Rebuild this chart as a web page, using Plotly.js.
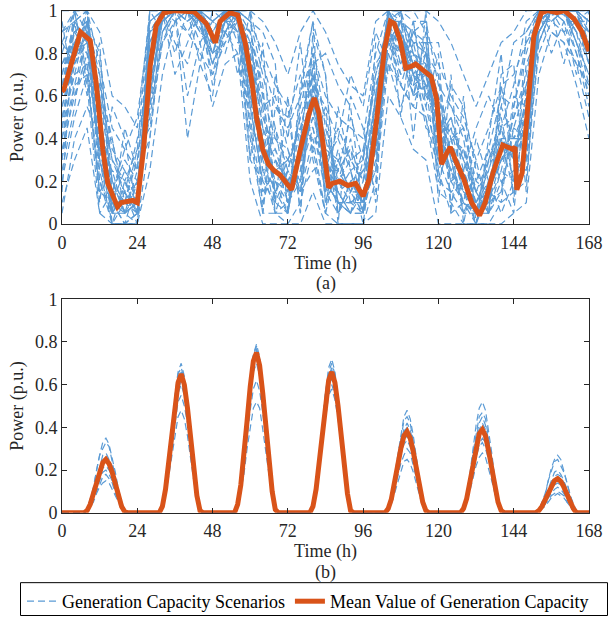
<!DOCTYPE html>
<html><head><meta charset="utf-8">
<script src="https://cdn.plot.ly/plotly-3.0.1.min.js"></script>
<style>html,body{margin:0;padding:0;background:#fff}#chart{width:609px;height:620px}</style>
</head><body><div id="chart"></div>
<script>
// ---------- DATA ----------
const timeTicks = [0, 24, 48, 72, 96, 120, 144, 168];
const powerTicks = [0, 0.2, 0.4, 0.6, 0.8, 1];
const powerTickText = ['0', '0.2', '0.4', '0.6', '0.8', '1'];

// (a) wind: scenario time grid (every 4 h)
const windHours = [0,4,8,12,16,20,24,28,32,36,40,44,48,52,56,60,64,68,72,76,80,84,88,92,96,100,104,108,112,116,120,124,128,132,136,140,144,148,152,156,160,164,168];
const windScenarios = [
 [.55,.80,.95,.60,.20,.05,.15,.85,1,1,1,.92,.80,1,1,.80,.45,.30,.10,.25,.70,.40,.15,.05,.20,.60,1,.90,.70,.80,.35,.45,.30,.10,.05,.25,.50,.70,1,1,.98,.90,.75],
 [.70,.95,1,.30,0,0,.05,.60,1,1,.95,1,.90,.95,1,.55,.20,.10,.25,.50,.45,.15,.30,.35,.05,.30,.85,.95,.85,.60,.55,.20,.10,0,.30,.45,.20,.35,.90,1,1,1,.85],
 [.40,.75,.85,.70,.35,.25,.10,.90,.95,1,1,1,.75,.90,.95,.90,.60,.40,.35,.15,.65,.55,.40,.25,.30,.70,.95,.70,.90,.85,.25,.40,.45,.20,.15,.10,.55,.85,.95,1,1,.95,.90],
 [.80,1,.90,.20,.05,.15,0,.70,1,1,1,1,.95,1,1,.65,.30,.15,.05,.40,.80,.20,.10,.10,.15,.35,1,1,.80,.75,.60,.30,.05,.05,.20,.40,.30,.60,1,1,1,.85,.70],
 [.60,.90,.80,.50,.15,.30,.20,.50,.90,1,1,.90,.85,1,.95,.85,.50,.35,.20,.30,.50,.35,.05,.20,.10,.50,.90,.80,.65,.70,.40,.50,.25,.05,.10,.30,.45,.40,.95,1,1,1,.95],
 [.30,.65,.90,.55,.05,.10,.30,.80,1,.95,.90,1,1,1,.90,.60,.15,.25,.30,.45,.55,.25,.25,.15,.05,.55,.95,.90,.75,.55,.30,.15,.20,.10,.25,.55,.40,.55,1,.95,1,1,.80],
 [.75,.85,1,.40,.10,0,.05,.95,1,1,1,.95,.70,.95,1,.75,.40,.20,.15,.35,.60,.30,.20,.30,.20,.40,1,.85,.80,.65,.50,.35,.15,0,.15,.35,.35,.45,.90,1,1,.90,.65],
 [.50,.70,.75,.35,.25,.05,.10,.65,.95,1,1,1,.90,1,.95,.70,.25,.05,.10,.20,.65,.10,.35,.10,.10,.25,.80,.95,.60,.90,.45,.25,.35,.15,.05,.20,.25,.30,.95,1,.95,.95,.85],
 [.65,.95,.85,.65,.40,.10,.05,.75,1,1,.60,.85,.95,.90,1,.95,.70,.45,.25,.50,.70,.50,.10,.05,.30,.75,.85,.75,.95,.95,.65,.55,.40,.05,.35,.60,.55,.80,1,1,1,.95,.90],
 [.45,.85,.95,.25,0,.20,.10,.55,1,1,1,1,.80,.85,1,.50,.10,.30,.20,.25,.45,.20,.15,.25,0,.45,.95,1,.70,.65,.20,.40,.15,.10,.10,.45,.30,.25,1,1,1,1,.80],
 [.85,1,.70,.15,.10,.05,.25,.90,1,.80,1,1,.95,1,.85,.85,.55,.10,.05,.40,.85,.45,.20,.10,.15,.35,.90,.65,.85,.80,.70,.30,.25,.05,.05,.15,.45,.65,.85,1,1,.85,.60],
 [.55,.75,.90,.55,.05,.15,.05,.80,.95,1,1,.90,.85,.95,1,.60,.35,.25,.30,.30,.55,.15,.05,.20,.25,.55,1,.90,.75,.70,.30,.35,.05,.10,.20,.40,.40,.50,1,.95,1,.90,.85],
 [.70,.90,.95,.45,.15,.10,.15,.70,1,1,1,1,.90,1,1,.80,.30,.35,.15,.45,.40,.35,.30,.15,.15,.40,.95,.80,.70,.60,.50,.45,.20,0,.20,.30,.35,.55,.95,1,1,1,.75],
 [.35,.60,.80,.65,.30,.20,.35,.45,.85,1,.95,1,.65,.90,.95,.90,.60,.15,.25,.15,.60,.25,.45,.30,.35,.65,.85,.95,.80,.45,.40,.20,.35,.15,.30,.50,.20,.75,.90,1,.90,.95,.95],
 [.60,.95,1,.35,.05,.05,.10,.85,1,1,1,1,1,1,1,.70,.40,.20,.10,.30,.75,.20,.10,.05,.05,.50,1,.90,.75,.75,.45,.25,.10,.05,.15,.30,.40,.40,1,1,1,.95,.80],
 [.50,.80,.85,.50,.20,.10,.20,.60,1,1,1,.95,.85,1,1,.65,.25,.30,.20,.35,.50,.30,.15,.20,.10,.40,.90,.85,.70,.70,.50,.40,.20,.05,.15,.35,.35,.50,.95,1,1,.95,.85],
 [.90,1,1,.75,.45,.35,.25,.95,1,1,1,1,1,1,1,1,.75,.55,.45,.60,.80,.60,.50,.45,.40,.80,1,1,1,.90,.75,.60,.50,.30,.45,.65,.70,.85,1,1,1,1,1],
 [.20,.50,.70,.20,0,0,0,.40,.90,1,1,.95,.75,.90,.90,.45,.05,.05,0,.10,.35,.05,0,0,0,.20,.75,.65,.55,.50,.15,.10,0,0,0,.10,.15,.20,.85,1,.95,.80,.55],
 [.65,.85,.90,.60,.30,.15,.05,.75,1,.70,.85,1,.95,1,1,.85,.45,.40,.30,.20,.65,.40,.25,.35,.20,.60,1,.95,.85,.85,.30,.50,.30,.15,.25,.45,.50,.65,1,1,1,1,.90],
 [.45,.70,.95,.30,.10,.25,.15,.65,.95,1,1,.90,.80,.95,.95,.55,.20,.20,.05,.40,.60,.20,.10,.10,.05,.35,.85,.80,.60,.65,.55,.30,.10,.05,.10,.25,.20,.35,.90,1,1,.85,.70],
 [1,1,1,.90,.60,.55,.45,1,1,1,1,1,1,1,1,1,.95,.85,.70,.90,1,.90,.75,.65,.60,.95,1,1,1,1,.95,.85,.70,.55,.70,.85,.90,1,1,1,1,1,1],
 [.10,.30,.45,.05,0,0,0,.25,.70,.95,1,.85,.55,.75,.80,.20,0,0,0,0,.15,0,0,0,0,.05,.60,.50,.35,.30,0,0,0,0,0,0,.05,.10,.70,.90,.85,.65,.40],
 [.95,.60,.75,.10,.55,.40,.05,1,1,1,.40,.75,1,1,1,.30,.85,.10,.60,.05,.90,.70,0,.60,.45,.10,1,.50,.95,.55,.80,.05,.60,0,.40,.80,.10,.90,1,.80,.95,.70,1],
 [.15,.95,.60,.85,.05,.45,.25,.40,1,1,1,.75,.60,1,.70,1,.05,.70,.40,.85,.30,.05,.55,.25,.05,.85,.70,1,.40,1,.10,.70,0,.30,.05,.70,.75,.15,1,1,.75,1,.95],
 [.85,.75,1,.55,0,.10,.35,1,.90,1,1,1,.85,.80,1,.90,.65,.05,.05,.65,.95,.10,.25,.50,.30,.70,.90,.85,.60,.80,.40,.65,.55,.25,.10,.15,.60,.55,.95,1,1,.80,.60],
 [.25,.55,.95,.80,.20,.05,0,.80,1,1,1,1,.95,.90,.80,.40,.05,.55,.50,.70,.35,.55,.10,.05,.15,.25,.95,.75,.90,.95,.20,.15,.05,.20,.35,.20,.05,.65,.85,1,1,.90,.85],
 [.60,1,.65,.05,.15,.35,.50,.95,1,.85,.75,1,1,.95,1,.95,.80,.65,.55,.05,.75,.80,.65,.55,.05,.60,.90,1,.95,.60,.70,.10,.25,.45,.60,.45,.65,.95,1,.90,.85,.75,.50],
 [.05,.40,.55,.40,.10,0,.20,.60,.95,1,.90,.80,.70,.85,.95,.45,.35,.05,.25,.15,.25,.30,.40,.70,.55,.90,.75,.55,.70,.50,.25,.05,.10,.40,.20,.05,.20,.30,.80,.95,1,.95,1],
 [.90,.95,.85,.30,.05,.05,.10,.90,1,1,1,1,.90,1,1,.95,.90,.75,.05,.60,.95,.70,.05,.15,.35,.15,1,.90,.65,.85,.85,.55,.45,.15,.05,.55,.85,.90,1,1,1,1,.90],
 [.40,.65,.70,.15,.25,.20,.05,.55,.85,.95,1,.95,.75,.95,.90,.30,.20,.45,.10,.55,.80,.15,.20,.40,.10,.45,.80,.65,.55,.75,.35,.25,.15,.05,.05,.65,.30,.45,.95,.95,.90,.75,.65],
 [.75,.90,.95,.70,.15,.15,.40,.70,1,1,.95,1,.80,1,1,.75,.55,.60,.35,.15,.40,.05,.30,.15,.25,.35,.95,.95,.90,.80,.60,.40,.35,.05,.30,.40,.15,.55,1,1,1,1,.95],
 [.30,.85,.80,.35,.40,.05,.10,.75,.95,1,1,1,.90,.90,1,.60,.45,.15,.30,.45,.70,.20,.15,.05,.05,.60,.85,.70,.80,.70,.50,.20,.25,.10,.15,.30,.35,.40,.90,1,1,.95,.75]
];
// (a) wind: mean generation capacity
const meanWindHours = [0,0.6,5.9,9,10.9,13,14.6,17.7,18.9,22.6,24,26,28.1,30,32.5,36,42,46,48.9,50.4,53.5,56,58.4,60.6,62,64,65.8,67.6,69.5,71.4,73.2,75.7,78.8,80.4,81.9,83.7,85,86.2,88.6,91.1,93.6,96,97.9,100.4,102.8,104.7,105.9,107.8,109.6,111.5,112.7,115.2,117.7,119.5,120.4,121,122.6,123.8,125.7,128.1,130.6,133.1,134.9,137.4,140.5,143.6,144.4,145,146.7,148.5,150.4,152.8,154.7,157.8,160.2,163.3,165.8,168];
const meanWind = [.62,.63,.90,.86,.66,.35,.19,.08,.10,.11,.10,.35,.74,.93,.99,1.0,.995,.94,.85,.95,.99,.98,.85,.66,.50,.35,.28,.25,.23,.19,.16,.33,.52,.59,.52,.32,.17,.19,.20,.18,.19,.13,.21,.50,.82,.95,.94,.86,.73,.74,.75,.72,.69,.58,.43,.28,.33,.36,.29,.21,.10,.04,.10,.24,.37,.35,.36,.16,.24,.58,.88,.99,1.0,.99,1.0,.96,.90,.81];

// (b) solar: daylight hours of each day
const solarHours = [0,
 7,8,9,10,11,12,13,14,15,16,17,18,19,20,21,
 31,32,33,34,35,36,37,38,39,40,41,42,43,44,45,
 55,56,57,58,59,60,61,62,63,64,65,66,67,68,69,
 79,80,81,82,83,84,85,86,87,88,89,90,91,92,93,
 103,104,105,106,107,108,109,110,111,112,113,114,115,116,117,
 127,128,129,130,131,132,133,134,135,136,137,138,139,140,141,
 151,152,153,154,155,156,157,158,159,160,161,162,163,164,165,
 168];
const solarScenarios = [
 [0,
  0,.02,.07,.11,.20,.27,.30,.33,.31,.24,.18,.10,.05,.01,0,
  0,.03,.12,.25,.38,.54,.65,.68,.62,.52,.35,.21,.09,.01,0,
  0,.04,.14,.27,.45,.60,.74,.78,.71,.59,.42,.24,.10,.02,0,
  0,.04,.12,.26,.40,.56,.66,.70,.65,.52,.37,.22,.09,.01,0,
  0,.02,.08,.17,.25,.36,.43,.45,.42,.33,.25,.14,.06,.01,0,
  0,.02,.09,.16,.28,.36,.45,.47,.44,.35,.24,.15,.06,.01,0,
  0,.01,.05,.08,.15,.19,.24,.25,.22,.19,.14,.08,.03,.01,0,
  0],
 [0,
  0,.01,.03,.07,.10,.13,.17,.18,.16,.14,.09,.06,.02,0,0,
  0,.03,.10,.22,.36,.48,.57,.62,.58,.46,.33,.19,.08,.01,0,
  0,.04,.13,.25,.42,.57,.70,.74,.69,.55,.39,.23,.10,.01,0,
  0,.03,.11,.23,.36,.49,.60,.64,.58,.48,.34,.20,.08,.01,0,
  0,.02,.05,.11,.18,.23,.27,.30,.28,.22,.16,.09,.04,.01,0,
  0,.02,.06,.13,.20,.27,.32,.35,.33,.26,.18,.11,.05,.01,0,
  0,.01,.02,.04,.07,.09,.11,.12,.11,.09,.06,.04,.02,0,0,
  0],
 [0,
  0,.01,.05,.10,.17,.21,.27,.28,.25,.22,.15,.09,.04,.01,0,
  0,.03,.09,.20,.31,.42,.52,.55,.50,.42,.29,.17,.07,.01,0,
  0,.03,.10,.18,.30,.40,.49,.52,.49,.39,.28,.16,.07,.01,0,
  0,.03,.12,.24,.38,.53,.64,.68,.63,.51,.36,.21,.09,.01,0,
  0,.02,.07,.15,.24,.33,.39,.42,.39,.32,.22,.13,.05,.01,0,
  0,.01,.05,.10,.16,.22,.26,.28,.26,.21,.15,.09,.04,.01,0,
  0,.01,.03,.07,.11,.16,.19,.20,.18,.15,.11,.06,.03,0,0,
  0],
 [0,
  0,.01,.04,.08,.13,.17,.21,.22,.20,.17,.12,.07,.03,0,0,
  0,.04,.12,.25,.40,.55,.66,.70,.64,.53,.37,.22,.09,.01,0,
  0,.04,.13,.27,.44,.60,.72,.77,.71,.58,.41,.24,.10,.02,0,
  0,.03,.10,.21,.34,.47,.56,.60,.55,.45,.32,.19,.08,.01,0,
  0,.02,.06,.13,.21,.28,.34,.36,.33,.27,.19,.11,.05,.01,0,
  0,.03,.09,.18,.30,.41,.49,.52,.48,.39,.28,.16,.07,.01,0,
  0,.01,.02,.04,.06,.08,.09,.10,.09,.08,.05,.03,.01,0,0,
  0],
 [0,
  0,.02,.06,.12,.20,.27,.33,.35,.32,.26,.19,.11,.05,.01,0,
  0,.03,.11,.23,.38,.51,.62,.66,.61,.50,.35,.20,.09,.01,0,
  0,.04,.12,.25,.40,.55,.66,.70,.64,.53,.37,.22,.09,.01,0,
  0,.04,.12,.25,.41,.56,.68,.72,.66,.54,.38,.22,.09,.01,0,
  0,.02,.08,.17,.27,.37,.45,.48,.44,.36,.25,.15,.06,.01,0,
  0,.02,.07,.14,.23,.31,.38,.40,.37,.30,.21,.12,.05,.01,0,
  0,.01,.03,.06,.10,.14,.17,.18,.17,.14,.10,.06,.02,0,0,
  0],
 [0,
  0,.01,.03,.05,.09,.12,.14,.15,.14,.11,.08,.05,.02,0,0,
  0,.02,.08,.17,.27,.37,.45,.48,.44,.36,.25,.15,.06,.01,0,
  0,.04,.13,.27,.43,.59,.71,.76,.70,.57,.40,.24,.10,.02,0,
  0,.03,.10,.20,.33,.45,.55,.58,.53,.44,.31,.18,.08,.01,0,
  0,.01,.04,.09,.14,.20,.24,.25,.23,.19,.13,.08,.03,.01,0,
  0,.02,.07,.15,.24,.33,.39,.42,.39,.32,.22,.13,.05,.01,0,
  0,.01,.05,.09,.15,.21,.25,.27,.25,.20,.14,.08,.04,.01,0,
  0],
 [0,
  0,.01,.04,.09,.15,.20,.24,.26,.24,.20,.14,.08,.03,.01,0,
  0,.03,.11,.22,.36,.50,.60,.64,.59,.48,.34,.20,.08,.01,0,
  0,.04,.13,.28,.45,.62,.74,.79,.73,.59,.42,.24,.10,.02,0,
  0,.03,.11,.23,.38,.52,.63,.67,.62,.50,.36,.21,.09,.01,0,
  0,.02,.07,.14,.23,.31,.38,.40,.37,.30,.21,.12,.05,.01,0,
  0,.02,.06,.12,.19,.26,.31,.33,.30,.25,.17,.10,.04,.01,0,
  0,.01,.02,.05,.08,.11,.13,.14,.13,.11,.07,.04,.02,0,0,
  0],
 [0,
  0,.01,.03,.07,.11,.16,.19,.20,.18,.15,.11,.06,.03,0,0,
  0,.03,.10,.21,.34,.47,.56,.60,.55,.45,.32,.19,.08,.01,0,
  0,.03,.11,.22,.35,.48,.58,.62,.57,.47,.33,.19,.08,.01,0,
  0,.03,.11,.22,.36,.49,.59,.63,.58,.47,.33,.20,.08,.01,0,
  0,.02,.06,.12,.19,.27,.32,.34,.31,.26,.18,.11,.04,.01,0,
  0,.02,.08,.16,.26,.35,.42,.45,.41,.34,.24,.14,.06,.01,0,
  0,0,.02,.03,.05,.07,.08,.09,.08,.07,.05,.03,.01,0,0,
  0]
];
const meanSolar = [0,
 0,.01,.04,.09,.14,.195,.235,.25,.23,.19,.13,.08,.03,.005,0,
 0,.03,.11,.23,.37,.51,.61,.65,.60,.49,.34,.20,.08,.01,0,
 0,.04,.13,.26,.43,.59,.71,.75,.69,.56,.40,.23,.10,.015,0,
 0,.03,.11,.23,.38,.51,.62,.66,.61,.50,.35,.20,.09,.01,0,
 0,.02,.065,.13,.22,.30,.36,.38,.35,.285,.20,.12,.05,.01,0,
 0,.02,.066,.14,.22,.30,.37,.39,.36,.29,.21,.12,.05,.01,0,
 0,.01,.03,.06,.09,.125,.15,.16,.147,.12,.085,.05,.02,0,0,
 0];

const labelScen = 'Generation Capacity Scenarios';
const labelMean = 'Mean Value of Generation Capacity';

// ---------- STYLE ----------
const BLUE = '#5B9BD5', ORANGE = '#D95319', AX = '#262626';
const FONT = 'Liberation Serif';
const FS = 18;

const traces = [];
windScenarios.forEach((s, i) => traces.push({
  x: windHours, y: s, xaxis: 'x', yaxis: 'y', type: 'scatter', mode: 'lines',
  line: {color: BLUE, width: 1.2, dash: '7px,4px'}, name: labelScen,
  showlegend: i === 0, legendgroup: 'scen', hoverinfo: 'skip'
}));
solarScenarios.forEach((s) => traces.push({
  x: solarHours, y: s, xaxis: 'x2', yaxis: 'y2', type: 'scatter', mode: 'lines',
  line: {color: BLUE, width: 1.2, dash: '7px,4px'}, name: labelScen,
  showlegend: false, legendgroup: 'scen', hoverinfo: 'skip'
}));
traces.push({x: meanWindHours, y: meanWind, xaxis: 'x', yaxis: 'y', type: 'scatter', mode: 'lines',
  line: {color: ORANGE, width: 5}, name: labelMean, showlegend: true, legendgroup: 'mean', hoverinfo: 'skip'});
traces.push({x: solarHours, y: meanSolar, xaxis: 'x2', yaxis: 'y2', type: 'scatter', mode: 'lines',
  line: {color: ORANGE, width: 5}, name: labelMean, showlegend: false, legendgroup: 'mean', hoverinfo: 'skip'});

const W = 609, H = 620;
const xdom = [62 / W, 589 / W];
function xa(anchor) {
  return {domain: xdom, anchor: anchor, range: [0, 168], tickmode: 'array', tickvals: timeTicks,
    ticks: 'inside', ticklen: 5, tickcolor: AX, showline: true, mirror: 'ticks', linecolor: AX, linewidth: 1,
    showgrid: false, zeroline: false, tickfont: {family: FONT, size: FS, color: AX}, ticklabelstandoff: 2,
    title: {text: 'Time (h)', font: {family: FONT, size: FS, color: AX}, standoff: 3}, automargin: false};
}
function ya(anchor, dom) {
  return {domain: dom, anchor: anchor, range: [0, 1], tickmode: 'array', tickvals: powerTicks, ticktext: powerTickText,
    ticks: 'inside', ticklen: 5, tickcolor: AX, showline: true, mirror: 'ticks', linecolor: AX, linewidth: 1,
    showgrid: false, zeroline: false, tickfont: {family: FONT, size: FS, color: AX},
    title: {text: 'Power (p.u.)', font: {family: FONT, size: FS, color: AX}, standoff: 6}, automargin: false};
}

const layout = {
  width: W, height: H, margin: {l: 0, r: 0, t: 0, b: 0}, paper_bgcolor: '#fff', plot_bgcolor: '#fff',
  font: {family: FONT, size: FS, color: '#000'},
  xaxis: xa('y'), yaxis: ya('x', [1 - 225 / H, 1 - 10.7 / H]),
  xaxis2: xa('y2'), yaxis2: ya('x2', [1 - 515.3 / H, 1 - 300.7 / H]),
  showlegend: true,
  legend: {orientation: 'h', x: 22 / W, xanchor: 'left', y: 1 - 586 / H, yanchor: 'top',
    font: {family: FONT, size: FS, color: '#000'}, bgcolor: 'rgba(0,0,0,0)', borderwidth: 0,
    traceorder: 'normal', itemwidth: 30},
  shapes: [{type: 'rect', xref: 'paper', yref: 'paper', x0: 20.5 / W, x1: 607.5 / W,
    y0: 1 - 618.5 / H, y1: 1 - 585.5 / H, line: {color: '#000', width: 1}}],
  annotations: [
    {text: '(a)', xref: 'paper', yref: 'paper', x: 325.5 / W, y: 1 - 285 / H, xanchor: 'center', yanchor: 'middle',
      showarrow: false, font: {family: FONT, size: FS, color: AX}},
    {text: '(b)', xref: 'paper', yref: 'paper', x: 325.5 / W, y: 1 - 575 / H, xanchor: 'center', yanchor: 'middle',
      showarrow: false, font: {family: FONT, size: FS, color: AX}}
  ]
};
Plotly.newPlot('chart', traces, layout, {staticPlot: true, displayModeBar: false});
</script></body></html>
